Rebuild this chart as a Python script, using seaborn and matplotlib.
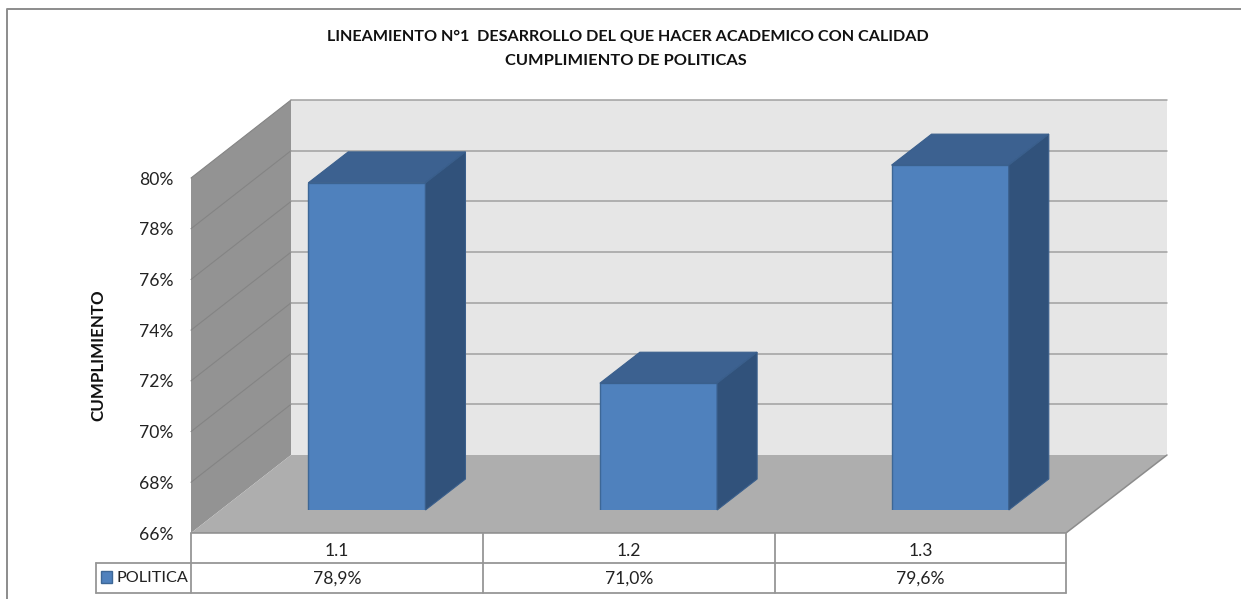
import matplotlib
matplotlib.use("Agg")
import matplotlib.pyplot as plt
from matplotlib.patches import Polygon, Rectangle
import seaborn as sns

categories = ["1.1", "1.2", "1.3"]
values = [78.9, 71.0, 79.6]
value_labels = ["78,9%", "71,0%", "79,6%"]
y_ticks = [66, 68, 70, 72, 74, 76, 78, 80]
series_name = "POLITICA"
title_lines = ["LINEAMIENTO N°1  DESARROLLO DEL QUE HACER ACADEMICO CON CALIDAD",
               "CUMPLIMIENTO DE POLITICAS"]
y_label = "CUMPLIMIENTO"

W, H = 1241, 599
FONT = "Lato"
LINE = "#969696"

sns.set_theme(style="white")
plt.rcParams["font.family"] = [FONT, "DejaVu Sans"]


def axes_px(fig, left, top, right, bottom):
    # axes rectangle given in image pixels
    return fig.add_axes([left / W, 1 - bottom / H, (right - left) / W, (bottom - top) / H])


def y_px(v):
    return 533 - (v - 66) * 355 / 14


fig = plt.figure(figsize=(W / 100, H / 100), dpi=100, facecolor="white")

# pixel layer for the chart frame, walls and table
bg = axes_px(fig, 0, 0, W, H)
bg.set_xlim(0, W)
bg.set_ylim(H, 0)
bg.axis("off")

bg.plot([6.5, 6.5, W], [H, 9, 9], color="#8c8c8c", lw=1.4)

bg.add_patch(Polygon([(291, 100), (1167, 100), (1167, 455), (291, 455)], fc="#e6e6e6", ec="none"))
bg.add_patch(Polygon([(191, 178), (291, 100), (291, 455), (191, 533)], fc="#939393", ec="none"))
bg.add_patch(Polygon([(191, 533), (291, 455), (1167, 455), (1066, 533)], fc="#aeaeae", ec="none"))
bg.plot([191, 1066, 1167], [533, 533, 455], color="#8c8c8c", lw=1.1)

for t in y_ticks[1:]:
    bg.plot([191, 291], [y_px(t), y_px(t) - 78], color="#848484", lw=0.8)
    bg.plot([291, 1167], [y_px(t) - 78, y_px(t) - 78], color="#a0a0a0", lw=1.1)

# value axis on the front plane
ax_ticks = axes_px(fig, 191, y_px(80), 1066, y_px(66))
ax_ticks.set_ylim(66, 80)
ax_ticks.set_xticks([])
ax_ticks.set_yticks(y_ticks)
ax_ticks.set_yticklabels([f"{t}%" for t in y_ticks], fontsize=12.6, color="#222222", va="center_baseline")
ax_ticks.tick_params(axis="y", length=0, pad=12.4)
ax_ticks.patch.set_visible(False)
sns.despine(ax=ax_ticks, left=True, bottom=True)

# bars stand on the floor, set back from the front plane
ax_bar = axes_px(fig, 221, 155, 1096, 510)
sns.barplot(x=categories, y=values, color="#4f81bd", saturation=1, width=0.402,
            edgecolor="#3d6796", linewidth=1.0, ax=ax_bar)
ax_bar.set_xlim(-0.5, 2.5)
ax_bar.set_ylim(66, 80)
ax_bar.axis("off")

dx = 40 / (875 / 3)
dy = 31 / (355 / 14)
for bar in ax_bar.patches:
    x0 = bar.get_x()
    x1 = x0 + bar.get_width()
    top = bar.get_height() + bar.get_y()
    ax_bar.add_patch(Polygon([(x0, top), (x0 + dx, top + dy), (x1 + dx, top + dy), (x1, top)],
                             fc="#3c6190", ec="#3a5f8c", lw=0.8, clip_on=False))
    ax_bar.add_patch(Polygon([(x1, 66), (x1 + dx, 66 + dy), (x1 + dx, top + dy), (x1, top)],
                             fc="#31527b", ec="#3a5f8c", lw=0.8, clip_on=False))

# data table below the chart
cols = [191, 482.5, 775, 1066]
for y in [563, 593]:
    bg.plot([96, 1066], [y, y], color=LINE, lw=1.3)
bg.plot([96, 96], [563, 593], color=LINE, lw=1.3)
for x in cols:
    bg.plot([x, x], [533, 593], color=LINE, lw=1.3)
for i, (cat, lab) in enumerate(zip(categories, value_labels)):
    xc = (cols[i] + cols[i + 1]) / 2
    bg.text(xc, 551, cat, ha="center", va="center", fontsize=12.6, color="#222222")
    bg.text(xc, 578.5, lab, ha="center", va="center", fontsize=12.6, color="#222222")
bg.add_patch(Rectangle((100.5, 571), 11, 12, fc="#4f81bd", ec="#3d6796", lw=1))
bg.text(116, 578, series_name, ha="left", va="center", fontsize=11.7, color="#222222")

bg.text(628, 37, title_lines[0], ha="center", va="center", fontsize=11.62, fontweight="bold", color="#111111")
bg.text(626, 61, title_lines[1], ha="center", va="center", fontsize=11.75, fontweight="bold", color="#111111")
bg.text(98, 355, y_label, ha="center", va="center", rotation=90, fontsize=12.2, fontweight="bold", color="#111111")

fig.savefig("out.png", dpi=100)
plt.close(fig)
